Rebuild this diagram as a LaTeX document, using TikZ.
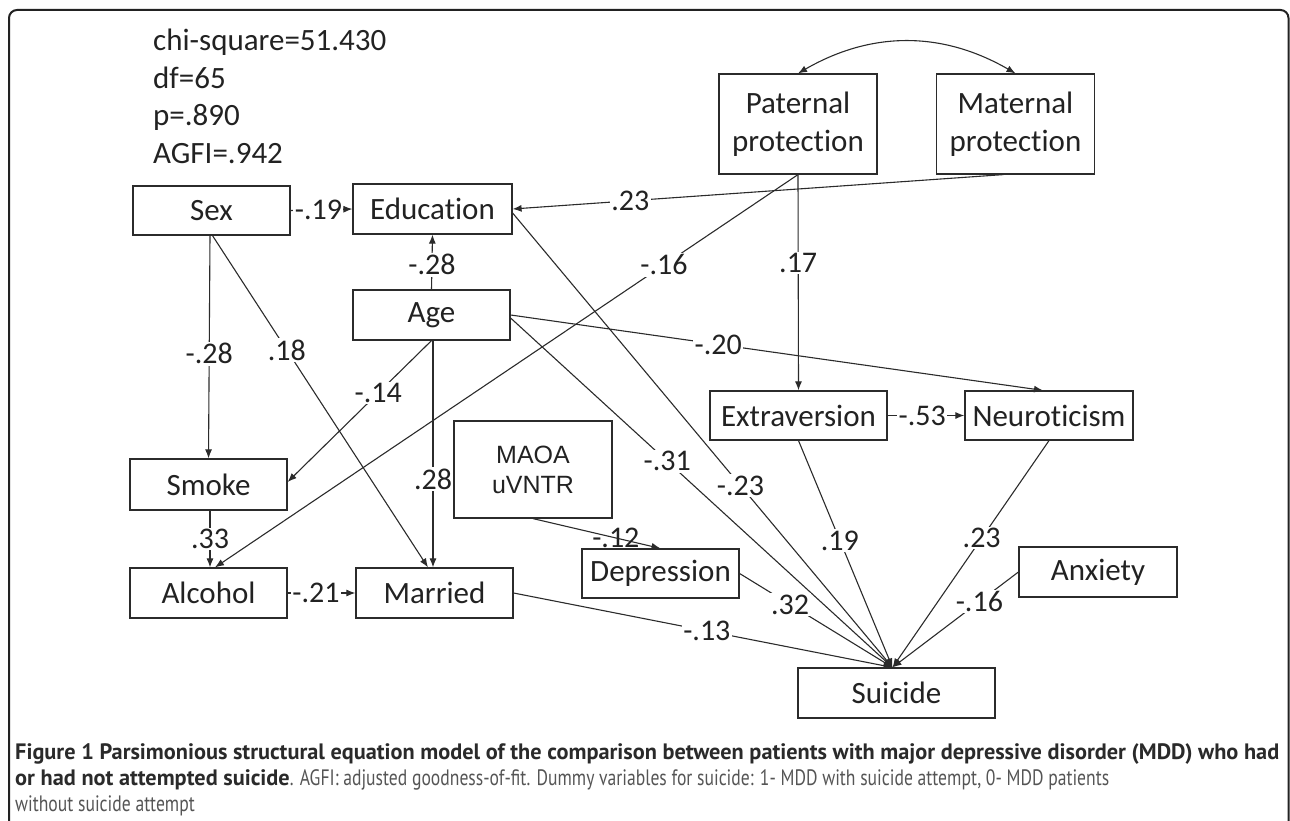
\documentclass[tikz,border=0pt]{standalone}
\usepackage{fontspec}
\setmainfont{Carlito}[Ligatures=NoCommon, Contextuals=NoAlternate]
\newfontfamily\arialf{Liberation Sans}
\newfontfamily\capf{PT Sans}
\newfontfamily\capreg{PT Sans}[FakeStretch=0.79]
\usetikzlibrary{arrows.meta,calc}
\definecolor{ln}{HTML}{2B2B2B}
\definecolor{txt}{HTML}{222222}
\definecolor{frame}{HTML}{222222}
\definecolor{capdark}{HTML}{2A2A2A}
\definecolor{capgray}{HTML}{555555}
\begin{document}
\begin{tikzpicture}[x=1pt,y=-1pt,
  every node/.style={text=txt},
  box/.style={draw=ln, line width=1.2pt, inner sep=0pt, align=center,
              font=\fontsize{31}{38}\selectfont},
  lab/.style={fill=white, inner sep=1.5pt, font=\fontsize{30}{36}\selectfont},
  con/.style={draw=ln, line width=1.1pt, -{Latex[length=9pt,width=7pt]}},
  stat/.style={anchor=base west, inner sep=0pt, font=\fontsize{31}{36}\selectfont},
  captxt/.style={anchor=base west, inner sep=0pt, font=\capf\fontsize{22.3}{26}\selectfont}]
\useasboundingbox (0,0) rectangle (1290,821);
\draw[line width=2pt, draw=frame, rounded corners=8pt] (9,860) -- (9,10) -- (1288.5,10) -- (1288.5,860);

% statistics
\node[stat] (s1) at (153,51) {chi-square=51.430};
\node[stat] (s2) at (153,88.5) {df=65};
\node[stat] (s3) at (153,126) {p=.890};
\node[stat] (s4) at (153,163.5) {AGFI=.942};

% boxes
\node[box, minimum width=157pt, minimum height=49pt] (sex) at (211.5,210.5) {Sex};
\node[box, minimum width=159pt, minimum height=50pt] (edu) at (432.5,209) {Education};
\node[box, minimum width=157pt, minimum height=50pt] (age) at (431.5,315) {Age};
\node[box, minimum width=158pt, minimum height=100pt] (pat) at (798,124) {Paternal\\protection};
\node[box, minimum width=158pt, minimum height=100pt] (mat) at (1015.5,124) {Maternal\\protection};
\node[box, minimum width=157pt, minimum height=51pt] (smoke) at (208.5,484.5) {Smoke};
\node[box, minimum width=157pt, minimum height=50pt] (alc) at (208.5,593) {Alcohol};
\node[box, minimum width=157pt, minimum height=50pt] (mar) at (434.5,593) {Married};
\node[box, minimum width=158pt, minimum height=97pt, font=\arialf\fontsize{25}{30}\selectfont] (maoa) at (533,469.5) {MAOA\\uVNTR};
\node[box, minimum width=157pt, minimum height=49pt] (dep) at (660.5,573.5) {Depression};
\node[box, minimum width=177pt, minimum height=49pt] (ext) at (798.5,415.5) {Extraversion};
\node[box, minimum width=168pt, minimum height=49pt] (neu) at (1049,415.5) {Neuroticism};
\node[box, minimum width=158pt, minimum height=50pt] (anx) at (1098,572) {Anxiety};
\node[box, minimum width=197pt, minimum height=50pt] (sui) at (896.5,693) {Suicide};

\coordinate (conv) at ($(sui.north)+(-4,0)$);

% connectors
\draw[draw=ln, line width=1.1pt, {Latex[length=9pt,width=7pt]}-{Latex[length=9pt,width=7pt]}]
  (pat.north) to[bend left=30] (mat.north);

\draw[con] (sex.east) -- node[lab, pos=0.45] {-.19} (edu.west);
\draw[con] (age.north) -- node[lab, pos=0.45] {-.28} (edu.south);
\draw[con] ($(mat.south)+(-12,0)$) -- node[lab, pos=0.76] {.23} (edu.east);
\draw[con] (pat.south) -- node[lab, pos=0.23] {-.16} ($(alc.north)+(6.5,0)$);
\draw[con] (pat.south) -- node[lab, pos=0.41] {.17} (ext.north);
\draw[con] (age.east) -- node[lab, pos=0.39] {-.20} ($(neu.north)+(-6,0)$);
\draw[con] ($(age.east)+(0,3)$) -- node[lab, pos=0.41] {-.31} (conv);
\draw[con] ($(edu.east)+(0,4)$) -- node[lab, pos=0.60] {-.23} (conv);
\draw[con] (ext.south) -- node[lab, pos=0.44] {.19} (conv);
\draw[con] (neu.south) -- node[lab, pos=0.43] {.23} (conv);
\draw[con] (anx.west) -- node[lab, pos=0.31] {-.16} (conv);
\draw[con] (dep.east) -- node[lab, pos=0.33] {.32} (conv);
\draw[con] (mar.east) -- node[lab, pos=0.51] {-.13} (conv);
\draw[con] (maoa.south) -- node[lab, pos=0.65, fill=none] {-.12} (dep.north);
\draw[con] ($(sex.south)+(-1.5,0)$) -- node[lab, pos=0.53] {-.28} (smoke.north);
\draw[con] ($(sex.south)+(1,0)$) -- node[lab, pos=0.345] {.18} ($(mar.north)+(-6.5,0)$);
\draw[con] (age.south) -- node[lab, pos=0.37] {-.14} ($(smoke.east)+(0,-2.5)$);
\draw[con] ($(age.south)+(1.5,0)$) -- node[lab, pos=0.61] {.28} ($(mar.north)+(-1.5,0)$);
\draw[con] ($(smoke.south)+(1.5,0)$) -- node[lab, pos=0.5] {.33} ($(alc.north)+(1.5,0)$);
\draw[con] (alc.east) -- node[lab, pos=0.42] {-.21} (mar.west);
\draw[con] (ext.east) -- node[lab, pos=0.45] {-.53} (neu.west);

% caption
\node[captxt, text=capdark] (c1) at (15,759) {\bfseries Figure 1 Parsimonious structural equation model of the comparison between patients with major depressive disorder (MDD) who had};
\node[captxt, text=capdark] (c2) at (15,785) {\bfseries or had not attempted suicide\mdseries\color{capgray}\capreg. AGFI: adjusted goodness-of-fit. Dummy variables for suicide: 1- MDD with suicide attempt, 0- MDD patients};
\node[captxt, text=capgray] (c3) at (15,811) {\capreg without suicide attempt};
\end{tikzpicture}
\end{document}
